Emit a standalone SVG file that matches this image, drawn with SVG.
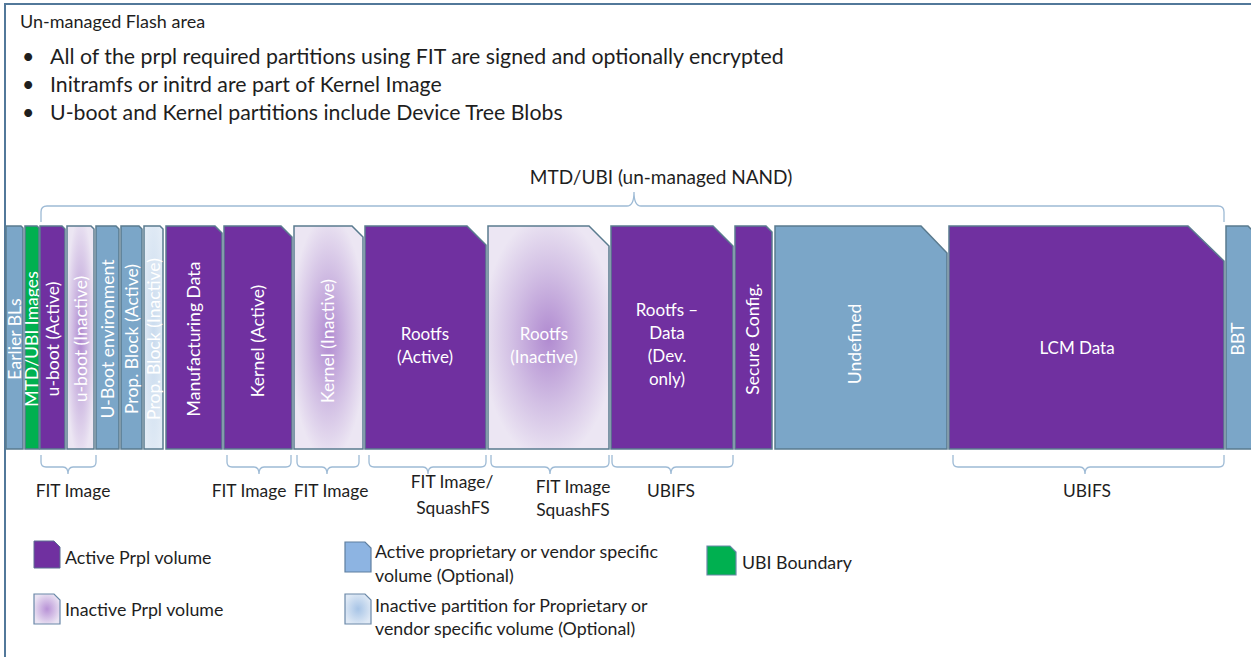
<svg xmlns="http://www.w3.org/2000/svg" width="1251" height="657" viewBox="0 0 1251 657">
  <defs>
    <radialGradient id="gInact" cx="0.5" cy="0.5" r="0.55">
      <stop offset="0" stop-color="#b08ad0"/>
      <stop offset="0.55" stop-color="#d2bfe4"/>
      <stop offset="1" stop-color="#ece6f3"/>
    </radialGradient>
    <radialGradient id="gPropIn" cx="0.5" cy="0.5" r="0.6">
      <stop offset="0" stop-color="#c9dbee"/>
      <stop offset="1" stop-color="#e3ecf6"/>
    </radialGradient>
    <radialGradient id="gLegInact" cx="0.5" cy="0.5" r="0.55">
      <stop offset="0" stop-color="#b892d6"/>
      <stop offset="1" stop-color="#ebe4f3"/>
    </radialGradient>
    <radialGradient id="gLegPropIn" cx="0.5" cy="0.5" r="0.55">
      <stop offset="0" stop-color="#a7c4e6"/>
      <stop offset="1" stop-color="#dfe9f5"/>
    </radialGradient>
  </defs>
  <style>
    text { font-family: Lato, "Liberation Sans", sans-serif; }
    .blk { stroke: #5a7b8f; stroke-width: 1.5; }
    .act { fill: #7030a0; }
    .inact { fill: url(#gInact); }
    .prop { fill: #7ba6c8; }
    .propIn { fill: url(#gPropIn); }
    .ubi { fill: #00b050; }
    .in { fill: #ffffff; font-size: 17px; }
    .vt { text-anchor: middle; font-size: 17.6px; }
    .cap { fill: #1e1e1e; font-size: 17.4px; text-anchor: middle; }
    .brace { fill: none; stroke: #9dbad5; stroke-width: 1.3; }
    .leg { fill: #1e1e1e; font-size: 17.8px; }
  </style>

  <rect width="1251" height="657" fill="#ffffff"/>
  <!-- flash area frame -->
  <rect x="5" y="4" width="1300" height="700" fill="none" stroke="#52789a" stroke-width="2"/>

  <g id="header">
    <text x="20" y="28" font-size="18" fill="#1e1e1e">Un-managed Flash area</text>
    <g font-size="21.3" fill="#1e1e1e">
      <text x="22" y="64">•</text>
      <text x="50" y="64">All of the prpl required partitions using FIT are signed and optionally encrypted</text>
      <text x="22" y="92">•</text>
      <text x="50" y="92">Initramfs or initrd are part of Kernel Image</text>
      <text x="22" y="120">•</text>
      <text x="50" y="120">U-boot and Kernel partitions include Device Tree Blobs</text>
    </g>
    <text x="661" y="184" font-size="19" fill="#1e1e1e" text-anchor="middle">MTD/UBI (un-managed NAND)</text>
  </g>

  <!-- partition strip -->
  <g id="earlier-bls">
    <path class="blk prop" d="M6,226 L21,226 L23,228 L23,449 L6,449 Z"/>
    <text class="in vt" transform="translate(20.5,339) rotate(-90)">Earlier BLs</text>
  </g>
  <g id="mtd-ubi-images">
    <path class="blk ubi" d="M25,226 L37,226 L39,228 L39,449 L25,449 Z"/>
    <text class="in vt" transform="translate(38,339) rotate(-90)">MTD/UBI Images</text>
  </g>
  <g id="uboot-active">
    <path class="blk act" d="M40,226 L62,226 L65,229 L65,449 L40,449 Z"/>
    <text class="in vt" transform="translate(58.5,339) rotate(-90)">u-boot (Active)</text>
  </g>
  <g id="uboot-inactive">
    <path class="blk inact" d="M67,226 L91,226 L94,229 L94,449 L67,449 Z"/>
    <text class="in vt" transform="translate(86.5,339) rotate(-90)">u-boot (Inactive)</text>
  </g>
  <g id="uboot-env">
    <path class="blk prop" d="M96,226 L116,226 L119,229 L119,449 L96,449 Z"/>
    <text class="in vt" transform="translate(113.5,339) rotate(-90)">U-Boot environment</text>
  </g>
  <g id="prop-block-active">
    <path class="blk prop" d="M121,226 L139,226 L142,229 L142,449 L121,449 Z"/>
    <text class="in vt" transform="translate(137.5,339) rotate(-90)">Prop. Block (Active)</text>
  </g>
  <g id="prop-block-inactive">
    <path class="blk propIn" d="M144,226 L160,226 L163,229 L163,449 L144,449 Z"/>
    <text class="in vt" transform="translate(159.5,339) rotate(-90)">Prop. Block (Inactive)</text>
  </g>
  <g id="manufacturing-data">
    <path class="blk act" d="M166,226 L215,226 L222,233 L222,449 L166,449 Z"/>
    <text class="in vt" transform="translate(200,339) rotate(-90)">Manufacturing Data</text>
  </g>
  <g id="kernel-active">
    <path class="blk act" d="M224,226 L281,226 L292,237 L292,449 L224,449 Z"/>
    <text class="in vt" transform="translate(264,341) rotate(-90)">Kernel (Active)</text>
  </g>
  <g id="kernel-inactive">
    <path class="blk inact" d="M294,226 L352,226 L363,237 L363,449 L294,449 Z"/>
    <text class="in vt" transform="translate(334,341) rotate(-90)">Kernel (Inactive)</text>
  </g>
  <g id="rootfs-active">
    <path class="blk act" d="M365,226 L467,226 L486,245 L486,449 L365,449 Z"/>
    <text class="in" text-anchor="middle" x="425" y="340">Rootfs</text>
    <text class="in" text-anchor="middle" x="425" y="363">(Active)</text>
  </g>
  <g id="rootfs-inactive">
    <path class="blk inact" d="M488,226 L589,226 L609,246 L609,449 L488,449 Z"/>
    <text class="in" text-anchor="middle" x="544" y="340">Rootfs</text>
    <text class="in" text-anchor="middle" x="544" y="363">(Inactive)</text>
  </g>
  <g id="rootfs-data">
    <path class="blk act" d="M611,226 L713,226 L733,246 L733,449 L611,449 Z"/>
    <text class="in" text-anchor="middle" x="667" y="316">Rootfs –</text>
    <text class="in" text-anchor="middle" x="667" y="339">Data</text>
    <text class="in" text-anchor="middle" x="667" y="362">(Dev.</text>
    <text class="in" text-anchor="middle" x="667" y="385">only)</text>
  </g>
  <g id="secure-config">
    <path class="blk act" d="M735,226 L766,226 L772,232 L772,449 L735,449 Z"/>
    <text class="in vt" transform="translate(759,339) rotate(-90)">Secure Config.</text>
  </g>
  <g id="undefined">
    <path class="blk prop" d="M775,226 L921,226 L947,253 L947,449 L775,449 Z"/>
    <text class="in vt" transform="translate(861,344) rotate(-90)">Undefined</text>
  </g>
  <g id="lcm-data">
    <path class="blk act" d="M949,226 L1188,226 L1224,261 L1224,449 L949,449 Z"/>
    <text class="in" text-anchor="middle" x="1077" y="354">LCM Data</text>
  </g>
  <g id="bbt">
    <path class="blk prop" d="M1226,226 L1248,226 L1252,230 L1252,449 L1226,449 Z"/>
    <text class="in vt" transform="translate(1244,339) rotate(-90)">BBT</text>
  </g>

  <!-- grouping braces -->
  <g id="braces">
    <path class="brace" d="M41,222 L41,212 Q41,206 47,206 L627,206 Q634,206 634,192 Q634,206 641,206 L1218,206 Q1224,206 1224,212 L1224,222"/>
    <path class="brace" d="M41,455 L41,462 Q41,467 46,467 L63,467 Q68,467 68,474 Q68,467 73,467 L91,467 Q96,467 96,462 L96,455"/>
    <path class="brace" d="M227,455 L227,462 Q227,467 232,467 L254,467 Q259,467 259,474 Q259,467 264,467 L286,467 Q291,467 291,462 L291,455"/>
    <path class="brace" d="M297,455 L297,462 Q297,467 302,467 L322,467 Q327,467 327,474 Q327,467 332,467 L354,467 Q359,467 359,462 L359,455"/>
    <path class="brace" d="M369,455 L369,462 Q369,467 374,467 L423,467 Q428,467 428,474 Q428,467 433,467 L481,467 Q486,467 486,462 L486,455"/>
    <path class="brace" d="M491,455 L491,462 Q491,467 496,467 L545,467 Q550,467 550,474 Q550,467 555,467 L604,467 Q609,467 609,462 L609,455"/>
    <path class="brace" d="M612,455 L612,462 Q612,467 617,467 L666,467 Q671,467 671,474 Q671,467 676,467 L728,467 Q733,467 733,462 L733,455"/>
    <path class="brace" d="M953,455 L953,462 Q953,467 958,467 L1080,467 Q1085,467 1085,474 Q1085,467 1090,467 L1219,467 Q1224,467 1224,462 L1224,455"/>
  </g>

  <g id="brace-labels">
    <text class="cap" x="73" y="497">FIT Image</text>
    <text class="cap" x="249" y="497">FIT Image</text>
    <text class="cap" x="331" y="497">FIT Image</text>
    <text class="cap" x="452" y="488">FIT Image/</text>
    <text class="cap" x="453" y="514">SquashFS</text>
    <text class="cap" x="573" y="493">FIT Image</text>
    <text class="cap" x="573" y="516">SquashFS</text>
    <text class="cap" x="671" y="497">UBIFS</text>
    <text class="cap" x="1087" y="497">UBIFS</text>
  </g>

  <!-- legend -->
  <g id="legend-active-prpl">
    <path d="M34,541 L54,541 L60,547 L60,568 L34,568 Z" fill="#7030a0" stroke="#5c6f92" stroke-width="1"/>
    <text class="leg" x="65" y="564">Active Prpl volume</text>
  </g>
  <g id="legend-inactive-prpl">
    <path d="M34,594 L54,594 L60,600 L60,624 L34,624 Z" fill="url(#gLegInact)" stroke="#6a88a8" stroke-width="1.2"/>
    <text class="leg" x="65" y="616">Inactive Prpl volume</text>
  </g>
  <g id="legend-active-prop">
    <path d="M345,542 L365,542 L371,548 L371,572 L345,572 Z" fill="#8db4e2" stroke="#5f7fa0" stroke-width="1.2"/>
    <text class="leg" x="375" y="558">Active proprietary or vendor specific</text>
    <text class="leg" x="375" y="582">volume (Optional)</text>
  </g>
  <g id="legend-inactive-prop">
    <path d="M345,594 L365,594 L371,600 L371,624 L345,624 Z" fill="url(#gLegPropIn)" stroke="#6a88a8" stroke-width="1.2"/>
    <text class="leg" x="375" y="612">Inactive partition for Proprietary or</text>
    <text class="leg" x="375" y="635">vendor specific volume (Optional)</text>
  </g>
  <g id="legend-ubi">
    <path d="M707,546 L730,546 L736,552 L736,575 L707,575 Z" fill="#00b050" stroke="#6a88a8" stroke-width="1.2"/>
    <text class="leg" x="742" y="569">UBI Boundary</text>
  </g>
</svg>
